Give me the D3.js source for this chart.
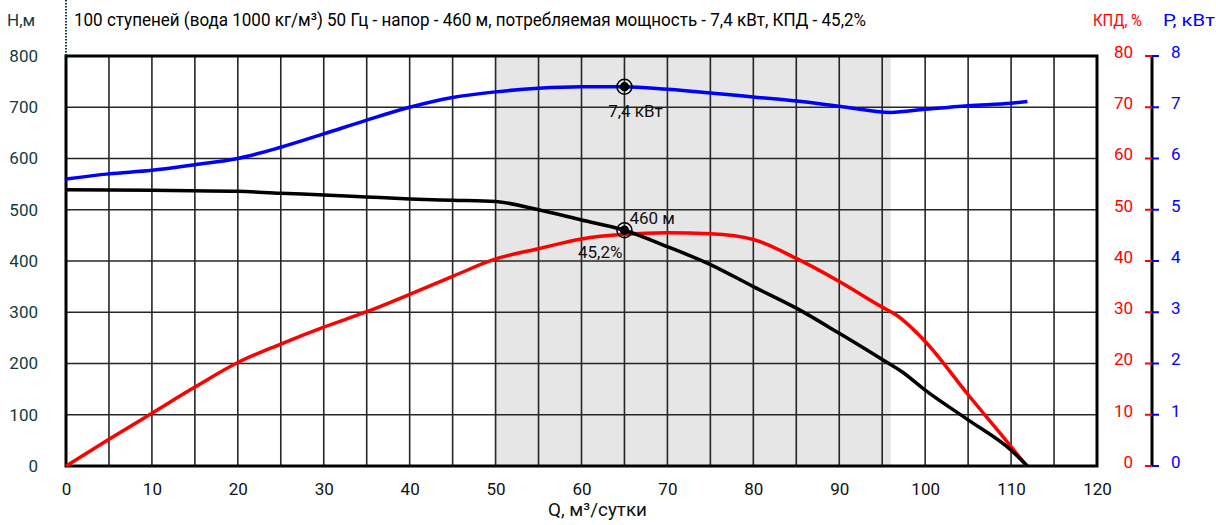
<!DOCTYPE html>
<html>
<head>
<meta charset="utf-8">
<script src="https://cdn.jsdelivr.net/npm/d3@7/dist/d3.min.js"></script>
<style>
  html, body { margin: 0; padding: 0; background: #fff; }
  svg { display: block; font-family: "Roboto", "Liberation Sans", sans-serif; }
</style>
</head>
<body>
<svg id="chart" width="1216" height="525"></svg>
<script>
// Pump performance curves at 50 Hz
const flowTicks = [0, 10, 20, 30, 40, 50, 60, 70, 80, 90, 100, 110, 120];
const headTicks = [0, 100, 200, 300, 400, 500, 600, 700, 800];
const effTicks = [0, 10, 20, 30, 40, 50, 60, 70, 80];
const powTicks = [0, 1, 2, 3, 4, 5, 6, 7, 8];

// Head H, m vs flow Q, m3/day
const headQ = [0, 10, 20, 25, 30, 35, 40, 45, 50, 55, 60, 65, 70, 75, 80, 85, 90, 95, 97.3, 100, 105, 110, 111.9];
const headH = [539, 538, 536, 532, 529, 525, 521, 518.5, 516, 500, 480, 460, 428, 393, 350, 308, 259, 208, 184, 148, 90, 31, 0];

// Efficiency, %
const effQ = [0, 5, 10, 15, 20, 25, 30, 35, 40, 45, 50, 55, 60, 65, 70, 75, 80, 85, 90, 95, 96.6, 100, 105, 110, 111.8];
const effV = [0, 5.2, 10.3, 15.4, 20.2, 23.8, 27.1, 30.1, 33.5, 37, 40.4, 42.4, 44.3, 45.2, 45.5, 45.3, 44.2, 40.5, 36, 31, 29.5, 24.3, 13.9, 3.8, 0];

// Power consumption, kW
const powQ = [0, 5, 10, 15, 20, 25, 30, 35, 40, 45, 50, 55, 60, 65, 70, 75, 80, 85, 90, 96, 100, 105, 110, 111.9];
const powV = [5.6, 5.7, 5.77, 5.88, 6.0, 6.22, 6.48, 6.75, 7.0, 7.19, 7.3, 7.37, 7.4, 7.4, 7.35, 7.28, 7.2, 7.12, 7.02, 6.9, 6.96, 7.03, 7.08, 7.11];

// Operating point and recommended range
const dutyQ = 65;
const dutyHead = 460;
const dutyPower = 7.4;
const dutyEff = 45.2;
const rangeQ = [50, 96];

const titleText = "100 ступеней (вода 1000 кг/м³) 50 Гц - напор - 460 м, потребляемая мощность - 7,4 кВт, КПД - 45,2%";

const svg = d3.select("#chart");
const pL = 66, pR = 1097, pT = 56, pB = 466;

const x = d3.scaleLinear().domain([0, 120]).range([pL, pR]);
const yH = d3.scaleLinear().domain([0, 800]).range([pB, pT]);
const yE = d3.scaleLinear().domain([0, 80]).range([pB, pT]);
const yP = d3.scaleLinear().domain([0, 8]).range([pB, pT]);

const teal = "#0f3d3e";

// Shaded working range
svg.append("rect")
  .attr("x", x(rangeQ[0])).attr("y", pT)
  .attr("width", x(rangeQ[1]) - x(rangeQ[0])).attr("height", pB - pT)
  .attr("fill", "#e6e6e6");

// Grid
const grid = svg.append("g").attr("stroke", "#262626").attr("stroke-width", 1.6);
grid.selectAll(".vg").data(d3.range(5, 120, 5)).join("line")
  .attr("x1", d => x(d)).attr("x2", d => x(d))
  .attr("y1", pT).attr("y2", pB);
grid.selectAll(".hg").data(headTicks.slice(1, -1)).join("line")
  .attr("x1", pL).attr("x2", pR)
  .attr("y1", d => yH(d)).attr("y2", d => yH(d));

// Frame
svg.append("rect")
  .attr("x", pL).attr("y", pT)
  .attr("width", pR - pL).attr("height", pB - pT)
  .attr("fill", "none").attr("stroke", "#000").attr("stroke-width", 3);

// Dashed mark above the left edge
svg.append("line")
  .attr("x1", pL).attr("x2", pL).attr("y1", 0).attr("y2", pT)
  .attr("stroke", teal).attr("stroke-width", 2).attr("stroke-dasharray", "1.5,1.5");

// Curves
const lineOf = (qs, vs, ys) => d3.line()
  .x((d, i) => x(qs[i])).y((d, i) => ys(vs[i]))
  .curve(d3.curveMonotoneX)(vs);

svg.append("path").attr("d", lineOf(effQ, effV, yE))
  .attr("fill", "none").attr("stroke", "#ff0000").attr("stroke-width", 3.5);
svg.append("path").attr("d", lineOf(headQ, headH, yH))
  .attr("fill", "none").attr("stroke", "#000").attr("stroke-width", 3.5);
svg.append("path").attr("d", lineOf(powQ, powV, yP))
  .attr("fill", "none").attr("stroke", "#0000ff").attr("stroke-width", 3.5);

// Duty point markers
function marker(cx, cy) {
  svg.append("circle").attr("cx", cx).attr("cy", cy).attr("r", 7.5)
    .attr("fill", "none").attr("stroke", "#000").attr("stroke-width", 1.5);
  svg.append("circle").attr("cx", cx).attr("cy", cy).attr("r", 4.7).attr("fill", "#000");
}
marker(x(dutyQ), yP(dutyPower));
marker(x(dutyQ), yH(dutyHead));

svg.append("text").attr("x", x(dutyQ) + 11).attr("y", yP(dutyPower) + 30)
  .attr("text-anchor", "middle").attr("font-size", 17).attr("fill", "#111")
  .text(String(dutyPower).replace(".", ",") + " кВт");
svg.append("text").attr("x", x(dutyQ) + 5).attr("y", yH(dutyHead) - 6)
  .attr("font-size", 17).attr("fill", "#111")
  .text(dutyHead + " м");
svg.append("text").attr("x", x(dutyQ) - 2).attr("y", yE(dutyEff) + 24)
  .attr("text-anchor", "end").attr("font-size", 17).attr("fill", "#111")
  .text(String(dutyEff).replace(".", ",") + "%");

// Left axis
const axL = svg.append("g").attr("transform", `translate(${pL},0)`)
  .call(d3.axisLeft(yH).tickValues(headTicks).tickSize(0).tickPadding(28));
axL.select(".domain").remove();
axL.selectAll("text").attr("font-size", 17).attr("fill", teal)
  .attr("font-family", "Roboto, sans-serif");

// Bottom axis
const axB = svg.append("g").attr("transform", `translate(0,${pB})`)
  .call(d3.axisBottom(x).tickValues(flowTicks).tickSize(0).tickPadding(17));
axB.select(".domain").remove();
axB.selectAll("text").attr("font-size", 17).attr("fill", "#111")
  .attr("font-family", "Roboto, sans-serif");

// Right axes: efficiency (red) and power (blue)
const ax = 1152;
svg.append("line").attr("x1", ax).attr("x2", ax).attr("y1", pT).attr("y2", pB)
  .attr("stroke", "#000").attr("stroke-width", 3);
const rg = svg.append("g");
rg.selectAll(".et").data(effTicks).join("line")
  .attr("x1", ax - 7).attr("x2", ax).attr("y1", d => yE(d)).attr("y2", d => yE(d))
  .attr("stroke", "#ff0000").attr("stroke-width", 2);
rg.selectAll(".pt").data(powTicks).join("line")
  .attr("x1", ax).attr("x2", ax + 7).attr("y1", d => yP(d)).attr("y2", d => yP(d))
  .attr("stroke", "#0000ff").attr("stroke-width", 2);
rg.selectAll(".el").data(effTicks).join("text")
  .attr("x", 1133).attr("y", d => yE(d) - 4).attr("dy", "0.35em")
  .attr("text-anchor", "end").attr("font-size", 17).attr("fill", "#ff0000")
  .text(d => d);
rg.selectAll(".pl").data(powTicks).join("text")
  .attr("x", 1171).attr("y", d => yP(d) - 4).attr("dy", "0.35em")
  .attr("font-size", 17).attr("fill", "#0000ff")
  .text(d => d);

// Axis titles
svg.append("text").attr("x", 7).attr("y", 26).attr("font-size", 17).attr("fill", teal).text("Н,м");
svg.append("text").attr("x", 1093).attr("y", 26).attr("font-size", 17).attr("fill", "#ff0000")
  .attr("textLength", 49).attr("lengthAdjust", "spacingAndGlyphs").text("КПД, %");
svg.append("text").attr("x", 1163).attr("y", 26).attr("font-size", 17).attr("fill", "#0000ff")
  .attr("textLength", 52).attr("lengthAdjust", "spacingAndGlyphs").text("P, кВт");

// Title
svg.append("text").attr("x", 74).attr("y", 26).attr("font-size", 18).attr("fill", "#000")
  .attr("textLength", 792).attr("lengthAdjust", "spacingAndGlyphs").text(titleText);

// Flow axis label
svg.append("text").attr("x", 548).attr("y", 516).attr("font-size", 18).attr("fill", "#111")
  .attr("textLength", 99).attr("lengthAdjust", "spacingAndGlyphs").text("Q, м³/сутки");
</script>
</body>
</html>
